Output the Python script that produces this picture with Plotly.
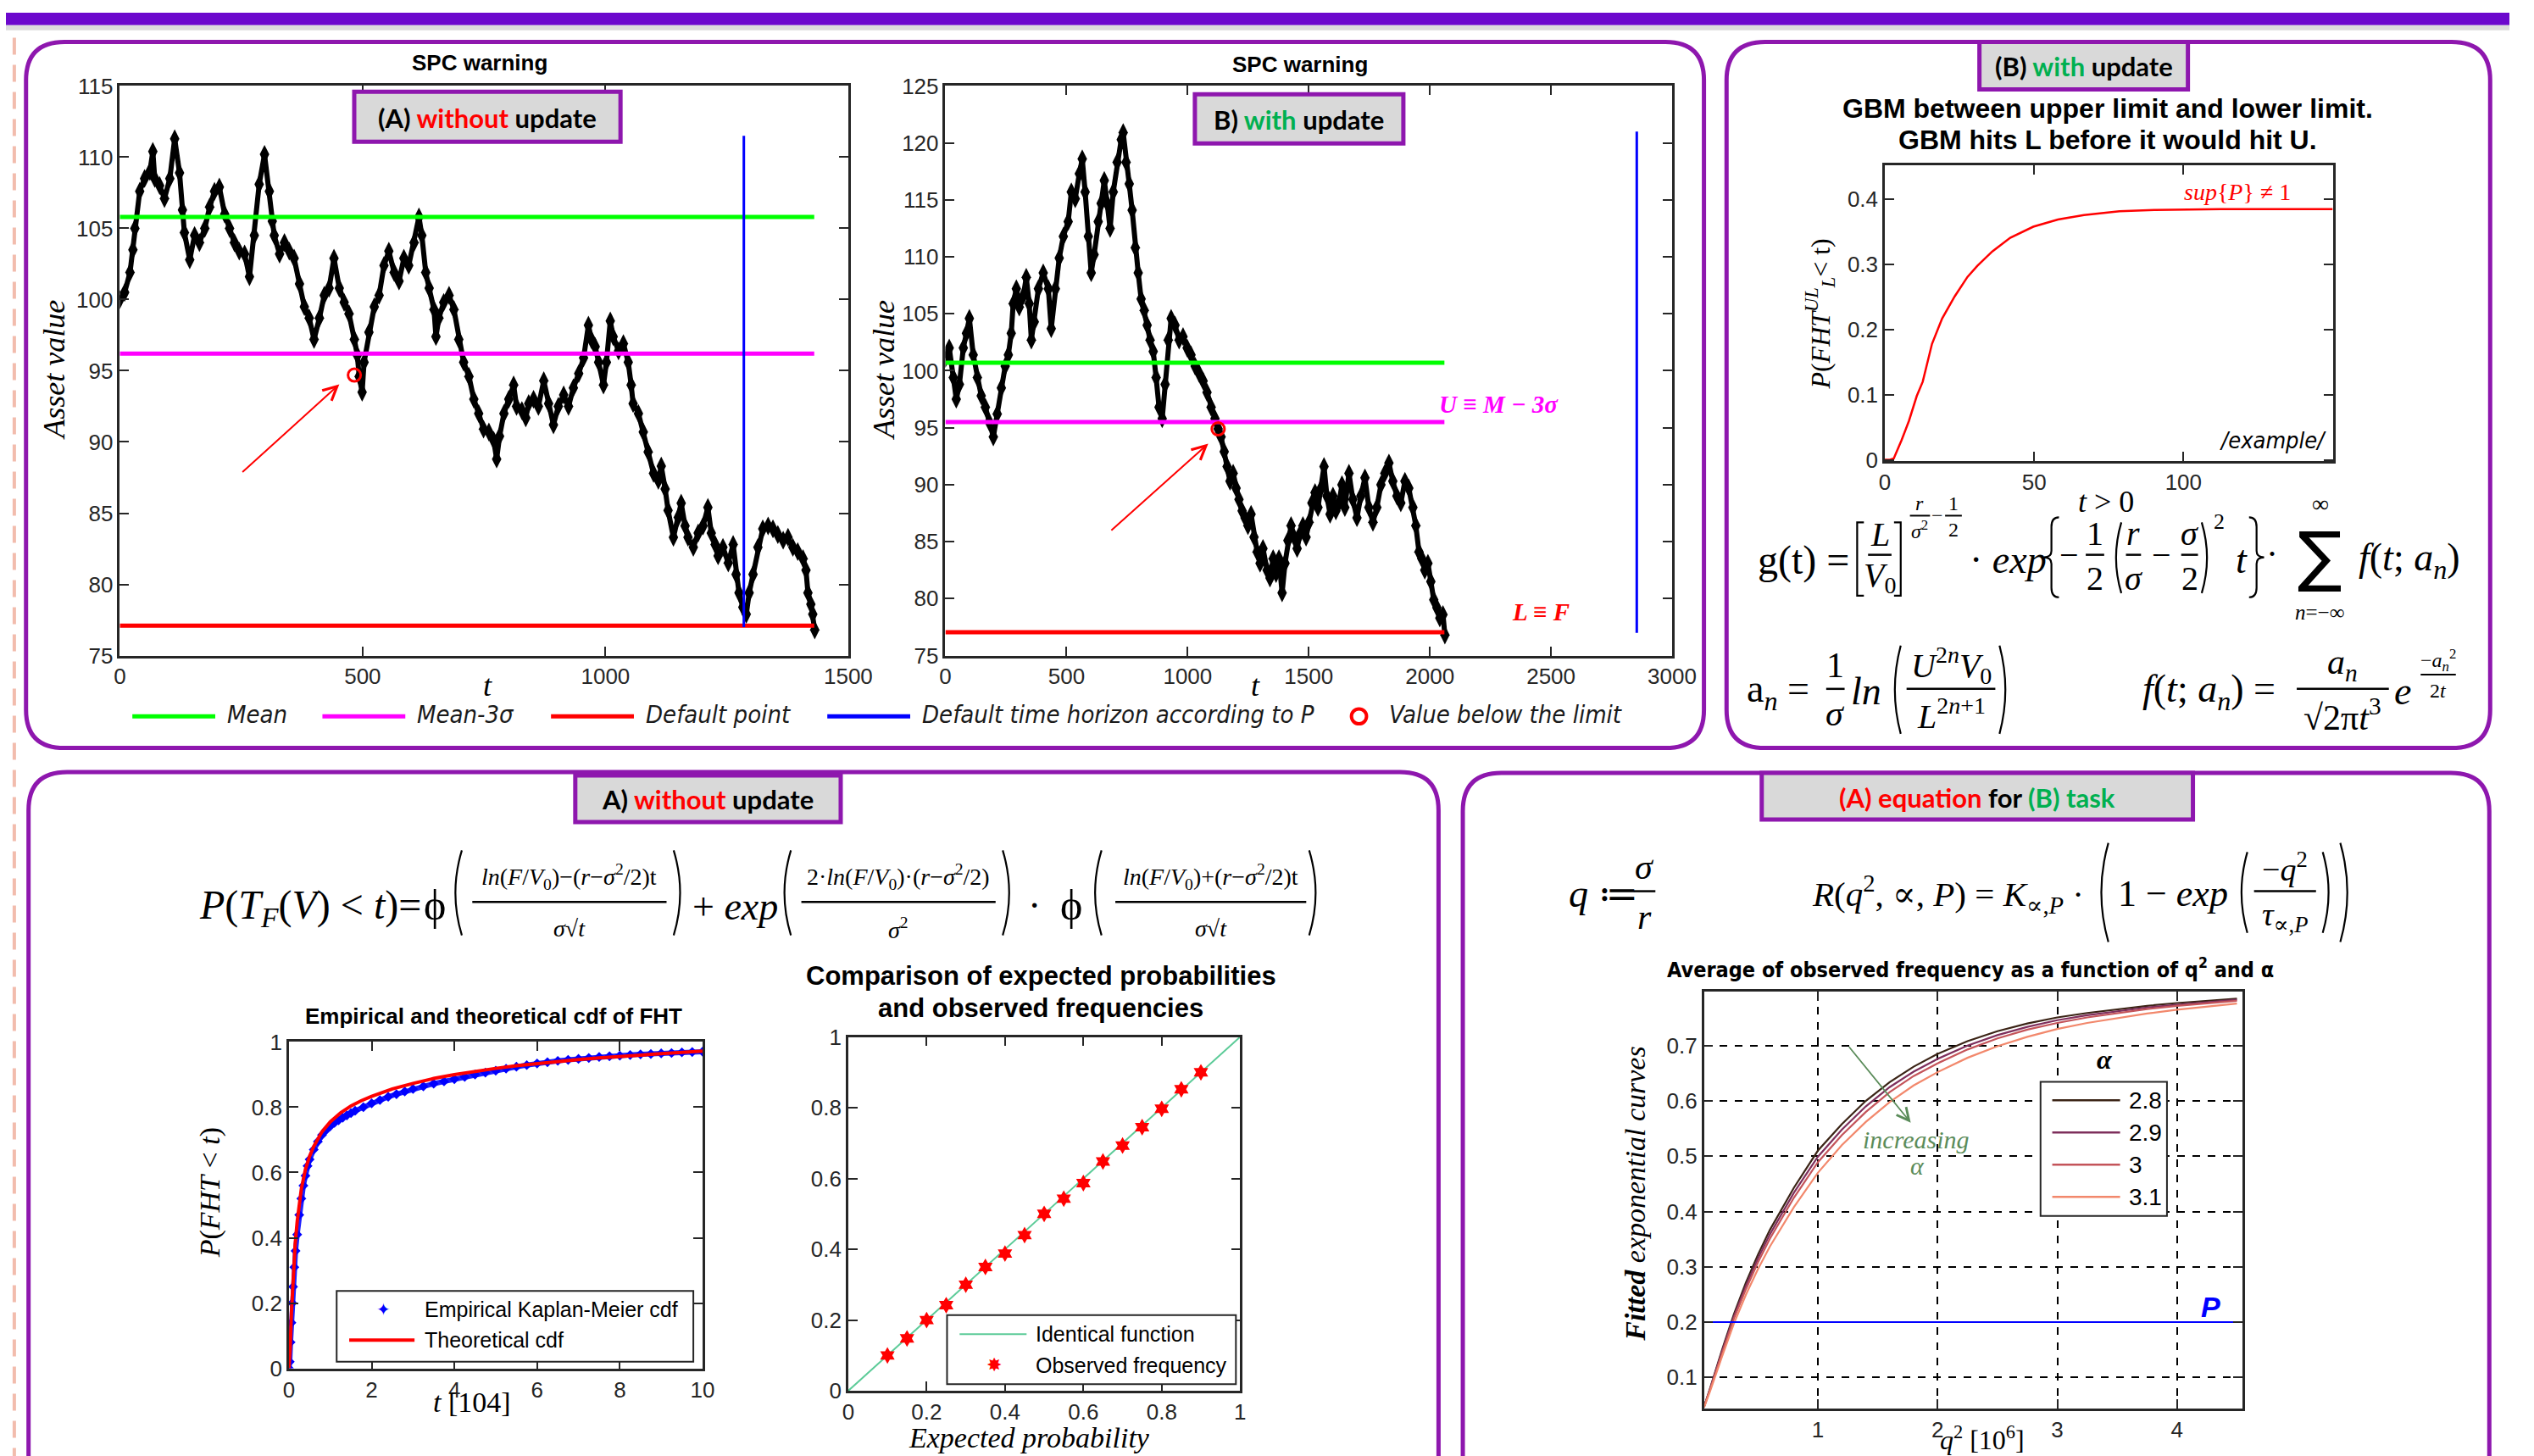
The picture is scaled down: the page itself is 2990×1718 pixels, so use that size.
import plotly.graph_objects as go

W, H = 2990, 1718

# ---------------------------------------------------------------- data
# SPC chart (A): simulated asset path, no update of the limits
t_a = [0, 10, 21, 27, 31, 41, 51, 62, 68, 72,
       82, 92, 103, 113, 123, 129, 133, 144, 154, 164,
       175, 185, 195, 205, 216, 226, 236, 246, 257, 267,
       277, 287, 298, 308, 314, 318, 329, 339, 349, 359,
       370, 380, 390, 400, 411, 421, 431, 441, 452, 462,
       472, 483, 489, 493, 499, 503, 513, 524, 534, 544,
       554, 565, 575, 585, 595, 606, 616, 622, 630, 637,
       647, 651, 657, 667, 678, 688, 698, 708, 719, 729,
       739, 749, 760, 770, 776, 782, 791, 801, 811, 817,
       828, 836, 842, 852, 862, 873, 883, 893, 903, 914,
       924, 934, 945, 955, 965, 971, 979, 986, 996, 1002,
       1010, 1016, 1027, 1037, 1047, 1053, 1057, 1068, 1078, 1088,
       1099, 1109, 1115, 1123, 1129, 1140, 1150, 1156, 1164, 1170,
       1181, 1191, 1201, 1211, 1218, 1226, 1232, 1242, 1253, 1263,
       1269, 1275, 1283, 1290, 1296, 1304, 1314, 1324, 1335, 1345,
       1355, 1366, 1376, 1386, 1396, 1407, 1413, 1417, 1423, 1427,
       1431]
v_a = [100.0, 100.5, 101.9, 103.5, 105.0, 107.6, 108.5, 109.0, 110.4, 108.5,
       108.0, 107.1, 108.5, 111.3, 108.9, 106.3, 104.7, 102.8, 104.5, 104.0,
       105.0, 106.5, 107.6, 107.9, 106.0, 105.0, 104.0, 103.4, 103.2, 101.6,
       104.5, 108.1, 110.2, 107.6, 105.5, 104.5, 103.2, 104.0, 103.4, 102.9,
       101.1, 99.5, 98.7, 97.2, 98.7, 100.3, 100.8, 102.9, 100.8, 99.8,
       99.0, 97.2, 96.1, 94.6, 93.5, 95.6, 97.7, 99.5, 100.3, 102.4,
       103.4, 101.9, 101.3, 102.9, 102.4, 104.0, 105.8, 104.5, 101.9, 100.8,
       99.3, 97.4, 98.7, 99.8, 100.3, 99.3, 97.2, 95.6, 94.6, 93.0,
       92.0, 90.9, 90.7, 90.1, 88.8, 90.4, 92.0, 93.0, 94.0, 92.5,
       92.2, 91.7, 92.7, 93.0, 92.5, 94.3, 92.7, 91.2, 92.5, 93.3,
       92.5, 93.8, 94.8, 95.9, 98.2, 97.2, 96.7, 95.6, 94.0, 95.6,
       98.5, 97.4, 96.4, 96.9, 95.6, 94.0, 92.7, 92.0, 90.7, 89.3,
       87.8, 87.3, 88.3, 86.7, 85.2, 83.3, 84.7, 85.7, 84.1, 83.3,
       82.6, 83.6, 84.1, 85.4, 83.6, 82.8, 82.0, 82.6, 81.5, 82.8,
       80.7, 79.4, 78.4, 77.9, 79.4, 80.7, 82.6, 83.9, 84.1, 83.9,
       83.5, 83.1, 83.3, 82.6, 82.3, 81.8, 81.0, 79.4, 78.6, 77.9,
       76.8]
mean_a, lcl_a, default_a = 105.8, 96.2, 77.1
horizon_a, t_end_a = 1285, 1430
horizon_a_span = [77.0, 111.5]
breach_a = (483, 94.7)

# SPC chart (B): limits updated
t_b = [0, 16, 33, 45, 58, 74, 87, 99, 115, 132,
       148, 165, 181, 198, 214, 231, 247, 260, 272, 280,
       293, 305, 322, 334, 346, 355, 367, 384, 404, 425,
       437, 454, 470, 487, 507, 520, 536, 553, 565, 577,
       590, 602, 614, 631, 643, 656, 668, 680, 693, 709,
       726, 734, 746, 759, 771, 784, 796, 808, 821, 833,
       845, 858, 870, 882, 895, 907, 920, 932, 948, 965,
       981, 998, 1014, 1031, 1047, 1064, 1080, 1097, 1113, 1126,
       1138, 1151, 1163, 1175, 1188, 1200, 1212, 1225, 1237, 1249,
       1262, 1274, 1287, 1299, 1311, 1328, 1340, 1353, 1365, 1377,
       1390, 1402, 1414, 1427, 1439, 1452, 1464, 1476, 1489, 1501,
       1513, 1526, 1538, 1551, 1563, 1575, 1588, 1600, 1612, 1625,
       1637, 1649, 1666, 1682, 1699, 1715, 1732, 1748, 1765, 1781,
       1798, 1814, 1831, 1847, 1864, 1880, 1897, 1913, 1930, 1942,
       1955, 1967, 1979, 1992, 2004, 2016, 2029, 2041, 2054, 2062]
v_b = [101.1, 102.0, 99.4, 97.5, 98.8, 102.0, 103.3, 104.6, 101.4, 99.4,
       97.8, 96.8, 95.5, 94.2, 96.2, 98.5, 100.4, 101.4, 103.3, 105.9,
       107.2, 105.6, 106.6, 108.2, 105.9, 102.7, 104.3, 107.2, 108.6, 107.2,
       103.7, 107.2, 109.9, 111.8, 113.1, 115.7, 115.1, 117.3, 118.6, 115.7,
       111.8, 108.6, 110.2, 113.1, 114.7, 116.7, 114.7, 112.5, 115.7, 118.3,
       120.3, 120.9, 118.3, 116.4, 114.1, 110.8, 108.6, 106.3, 105.3, 104.0,
       102.7, 101.7, 99.4, 96.8, 95.8, 98.8, 102.7, 104.6, 104.0, 102.7,
       103.0, 102.0, 101.4, 100.4, 99.8, 99.1, 98.1, 96.8, 95.8, 94.9,
       94.2, 92.9, 91.6, 90.3, 91.0, 89.7, 88.7, 87.7, 87.1, 86.4,
       87.4, 85.4, 84.1, 83.1, 84.4, 82.5, 81.8, 83.5, 82.2, 83.5,
       80.5, 83.1, 85.1, 86.4, 85.4, 84.4, 85.7, 86.4, 85.4, 86.7,
       88.4, 89.3, 88.0, 89.7, 91.6, 89.0, 87.4, 89.0, 87.7, 88.4,
       90.0, 88.0, 91.0, 88.7, 87.1, 89.0, 90.6, 88.0, 86.7, 88.0,
       90.0, 91.0, 91.9, 90.3, 89.0, 88.4, 90.3, 89.7, 88.0, 86.4,
       84.1, 83.5, 82.5, 83.1, 81.5, 79.9, 79.2, 78.3, 78.6, 76.8]
mean_b, lcl_b, default_b = 100.7, 95.5, 77.05
horizon_b, t_end_b = 2854, 2060
horizon_b_span = [77.0, 121.0]
breach_b = (1126, 94.9)

# GBM between an upper and a lower limit: P(FHT_L^UL < t)
gbm_t = [0, 1.4, 3, 5.6, 8.1, 10.7, 12.7, 15.8, 19.2, 23.4, 27.7, 31, 36, 42,
         49.7, 58, 66.7, 78.6, 90.5, 112.6, 150]
gbm_p = [0, 0, 0.002, 0.03, 0.06, 0.098, 0.12, 0.178, 0.217, 0.251, 0.281,
         0.298, 0.320, 0.341, 0.358, 0.369, 0.376, 0.3816, 0.3838, 0.385, 0.385]

# Empirical (Kaplan-Meier) and theoretical cdf of the first hitting time
emp_t = [0.0, 0.02, 0.04, 0.06, 0.08, 0.1, 0.13, 0.16, 0.2, 0.25, 0.3, 0.35,
         0.4, 0.45, 0.5, 0.6, 0.7, 0.8, 0.9, 1.0, 1.1, 1.2, 1.3, 1.4, 1.5, 1.6,
         1.8, 2.0, 2.2, 2.4, 2.6, 2.8, 3.0, 3.25, 3.5, 3.75, 4.0, 4.25, 4.5,
         4.75, 5.0, 5.25, 5.5, 5.75, 6.0, 6.25, 6.5, 6.75, 7.0, 7.25, 7.5,
         7.75, 8.0, 8.25, 8.5, 8.75, 9.0, 9.25, 9.5, 9.75, 10.0]
emp_p = [0.0, 0.02, 0.08, 0.14, 0.2, 0.25, 0.31, 0.36, 0.41, 0.47, 0.52, 0.56,
         0.59, 0.62, 0.64, 0.67, 0.695, 0.715, 0.73, 0.742, 0.752, 0.76, 0.768,
         0.775, 0.782, 0.789, 0.8, 0.812, 0.822, 0.832, 0.84, 0.848, 0.856,
         0.864, 0.872, 0.879, 0.886, 0.893, 0.9, 0.906, 0.912, 0.918, 0.924,
         0.929, 0.934, 0.938, 0.942, 0.945, 0.948, 0.951, 0.954, 0.956, 0.958,
         0.96, 0.962, 0.963, 0.965, 0.966, 0.968, 0.969, 0.97]
th_t = [0, 0.03, 0.06, 0.1, 0.15, 0.2, 0.3, 0.4, 0.5, 0.6, 0.8, 1.0, 1.25, 1.5,
        1.75, 2.0, 2.5, 3.0, 3.5, 4.0, 4.5, 5.0, 5.5, 6.0, 6.5, 7.0, 7.5, 8.0,
        8.5, 9.0, 9.5, 10.0]
th_p = [0, 0.06, 0.17, 0.28, 0.38, 0.45, 0.55, 0.61, 0.65, 0.68, 0.725, 0.755,
        0.783, 0.804, 0.82, 0.833, 0.856, 0.873, 0.888, 0.9, 0.91, 0.919, 0.927,
        0.934, 0.94, 0.946, 0.951, 0.956, 0.96, 0.964, 0.968, 0.972]

# Expected probabilities against observed frequencies
exp_p = [0.10, 0.15, 0.20, 0.25, 0.30, 0.35, 0.40, 0.45, 0.50, 0.55, 0.60,
         0.65, 0.70, 0.75, 0.80, 0.85, 0.90]
obs_f = [0.100, 0.148, 0.200, 0.242, 0.300, 0.350, 0.388, 0.440, 0.500, 0.543,
         0.587, 0.648, 0.693, 0.745, 0.797, 0.852, 0.900]

# Fitted exponential curves R(q^2, alpha, P)
q2 = [0.05, 0.1, 0.2, 0.3, 0.4, 0.5, 0.6, 0.8, 1.0, 1.2, 1.4, 1.6, 1.8, 2.0,
      2.25, 2.5, 2.75, 3.0, 3.25, 3.5, 3.75, 4.0, 4.25, 4.5]
fit_28 = [0.047, 0.080, 0.150, 0.215, 0.272, 0.322, 0.367, 0.443, 0.510, 0.558,
          0.600, 0.634, 0.662, 0.685, 0.708, 0.726, 0.740, 0.751, 0.759, 0.766,
          0.772, 0.777, 0.781, 0.785]
fit_29 = [0.047, 0.079, 0.147, 0.211, 0.266, 0.315, 0.359, 0.434, 0.499, 0.548,
          0.590, 0.625, 0.653, 0.676, 0.700, 0.719, 0.734, 0.746, 0.755, 0.762,
          0.769, 0.774, 0.779, 0.783]
fit_30 = [0.047, 0.078, 0.144, 0.207, 0.260, 0.308, 0.351, 0.425, 0.489, 0.538,
          0.580, 0.616, 0.645, 0.668, 0.693, 0.713, 0.729, 0.741, 0.751, 0.759,
          0.766, 0.772, 0.777, 0.781]
fit_31 = [0.046, 0.075, 0.138, 0.198, 0.250, 0.296, 0.337, 0.408, 0.470, 0.520,
          0.562, 0.598, 0.628, 0.652, 0.678, 0.699, 0.716, 0.730, 0.741, 0.750,
          0.758, 0.765, 0.771, 0.776]
alpha_labels = ["2.8", "2.9", "3", "3.1"]
alpha_colors = ["#3b2416", "#7e2f5c", "#c4545a", "#f2886c"]
p_level = 0.2

# ---------------------------------------------------------------- styling
PURPLE = "#8e17ae"
FRAME = "#262626"
SANS = "Liberation Sans, Arial, sans-serif"
NARROW = "Liberation Sans Narrow, Arial Narrow, DejaVu Sans Condensed, Liberation Sans, sans-serif"
CAL = "Lato, Liberation Sans, sans-serif"
SERIF = "Liberation Serif, DejaVu Serif, serif"

ann, shp = [], []


def X(px):
    return px / W


def Y(py):
    return 1 - py / H


def T(x, y, s, size, color="black", family=SERIF, xa="center", ya="middle", angle=0):
    ann.append(dict(x=X(x), y=Y(y), xref="paper", yref="paper", text=s,
                    showarrow=False, xanchor=xa, yanchor=ya, textangle=angle,
                    font=dict(size=size, color=color, family=family)))


def L(x0, y0, x1, y1, color="black", width=2.5, dash=None, layer="above"):
    shp.append(dict(type="line", xref="paper", yref="paper",
                    x0=X(x0), y0=Y(y0), x1=X(x1), y1=Y(y1), layer=layer,
                    line=dict(color=color, width=width, dash=dash)))


def R(x0, y0, x1, y1, fill, line=None, width=0, layer="above"):
    shp.append(dict(type="rect", xref="paper", yref="paper",
                    x0=X(x0), y0=Y(y0), x1=X(x1), y1=Y(y1), layer=layer,
                    fillcolor=fill, line=dict(color=line or fill, width=width)))


def PATH(cmds, color="black", width=2.2, fill=None, layer="above"):
    parts = []
    for c in cmds:
        op, nums = c[0], c[1:]
        pts = [f"{X(nums[i]):.5f},{Y(nums[i + 1]):.5f}" for i in range(0, len(nums), 2)]
        parts.append(op + " ".join(pts))
    shp.append(dict(type="path", xref="paper", yref="paper", path=" ".join(parts),
                    line=dict(color=color, width=width),
                    fillcolor=fill or "rgba(0,0,0,0)", layer=layer))


def panel(x0, y0, x1, y1, r=46):
    PATH([("M", x0 + r, y0), ("L", x1 - r, y0), ("Q", x1, y0, x1, y0 + r),
          ("L", x1, y1 - r), ("Q", x1, y1, x1 - r, y1), ("L", x0 + r, y1),
          ("Q", x0, y1, x0, y1 - r), ("L", x0, y0 + r), ("Q", x0, y0, x0 + r, y0), ("Z",)],
         color=PURPLE, width=5, layer="below")


def label_box(x0, y0, x1, y1, html, size=31):
    R(x0, y0, x1, y1, "#d9d9d9", PURPLE, 5)
    T((x0 + x1) / 2, (y0 + y1) / 2 + 1, "<b>" + html + "</b>", size, family=CAL)


def lparen(x, y0, y1, w=9):
    PATH([("M", x + 0.5 * w, y0), ("Q", x - 0.9 * w, (y0 + y1) / 2, x + 0.5 * w, y1)])


def rparen(x, y0, y1, w=9):
    PATH([("M", x - 0.5 * w, y0), ("Q", x + 0.9 * w, (y0 + y1) / 2, x - 0.5 * w, y1)])


def lbrack(x, y0, y1, w=8):
    PATH([("M", x + w, y0), ("L", x, y0), ("L", x, y1), ("L", x + w, y1)])


def rbrack(x, y0, y1, w=8):
    PATH([("M", x - w, y0), ("L", x, y0), ("L", x, y1), ("L", x - w, y1)])


def lbrace(x, y0, y1, w=9):
    m, h = (y0 + y1) / 2, (y1 - y0)
    PATH([("M", x + w, y0), ("Q", x, y0, x, y0 + 0.12 * h), ("L", x, m - 0.08 * h),
          ("Q", x, m, x - w, m), ("Q", x, m, x, m + 0.08 * h), ("L", x, y1 - 0.12 * h),
          ("Q", x, y1, x + w, y1)])


def rbrace(x, y0, y1, w=9):
    m, h = (y0 + y1) / 2, (y1 - y0)
    PATH([("M", x - w, y0), ("Q", x, y0, x, y0 + 0.12 * h), ("L", x, m - 0.08 * h),
          ("Q", x, m, x + w, m), ("Q", x, m, x, m + 0.08 * h), ("L", x, y1 - 0.12 * h),
          ("Q", x, y1, x - w, y1)])


def frac(xc, ybar, half, num, den, size, dy=26, width=2.5):
    L(xc - half, ybar, xc + half, ybar, width=width)
    T(xc, ybar - dy, num, size)
    T(xc, ybar + dy + 2, den, size)


def axis(dom, rng, tickvals, ticktext=None, size=26, **kw):
    d = dict(domain=dom, range=rng, tickvals=tickvals, showline=True, linecolor=FRAME,
             linewidth=2.5, mirror="ticks", ticks="inside", ticklen=11, tickwidth=2,
             tickcolor=FRAME, showgrid=False, zeroline=False, fixedrange=True,
             tickfont=dict(family=SANS, size=size, color="#262626"))
    if ticktext is not None:
        d["ticktext"] = ticktext
    d.update(kw)
    return d


def xd(a, b):
    return [a / W, b / W]


def yd(top, bottom):
    return [1 - bottom / H, 1 - top / H]


# ---------------------------------------------------------------- traces
fig = go.Figure()


def add(tr):
    fig.add_trace(tr)


PATH_LINE = dict(color="black", width=6)
PATH_MARK = dict(symbol="diamond-tall", size=16, color="black")

# SPC chart A
add(go.Scatter(x=t_a, y=v_a, xaxis="x", yaxis="y", mode="lines+markers",
               line=PATH_LINE, marker=PATH_MARK))
for lvl, col, wd in [(mean_a, "#00ff00", 5), (lcl_a, "#ff00ff", 5), (default_a, "#ff0000", 5)]:
    add(go.Scatter(x=[0, t_end_a], y=[lvl, lvl], xaxis="x", yaxis="y", mode="lines",
                   line=dict(color=col, width=wd)))
add(go.Scatter(x=[horizon_a, horizon_a], y=horizon_a_span, xaxis="x", yaxis="y",
               mode="lines", line=dict(color="#0000ff", width=3)))
add(go.Scatter(x=[breach_a[0]], y=[breach_a[1]], xaxis="x", yaxis="y", mode="markers",
               marker=dict(symbol="circle-open", size=15, color="#ff0000", line=dict(width=3))))

# SPC chart B
add(go.Scatter(x=t_b, y=v_b, xaxis="x2", yaxis="y2", mode="lines+markers",
               line=PATH_LINE, marker=PATH_MARK))
for lvl, col, wd in [(mean_b, "#00ff00", 5), (lcl_b, "#ff00ff", 5), (default_b, "#ff0000", 5)]:
    add(go.Scatter(x=[0, t_end_b], y=[lvl, lvl], xaxis="x2", yaxis="y2", mode="lines",
                   line=dict(color=col, width=wd)))
add(go.Scatter(x=[horizon_b, horizon_b], y=horizon_b_span, xaxis="x2", yaxis="y2",
               mode="lines", line=dict(color="#0000ff", width=3)))
add(go.Scatter(x=[breach_b[0]], y=[breach_b[1]], xaxis="x2", yaxis="y2", mode="markers",
               marker=dict(symbol="circle-open", size=15, color="#ff0000", line=dict(width=3))))

# GBM hitting probability
add(go.Scatter(x=gbm_t, y=gbm_p, xaxis="x3", yaxis="y3", mode="lines",
               line=dict(color="#ff0000", width=2.5)))

# cdf of FHT
add(go.Scatter(x=emp_t, y=emp_p, xaxis="x4", yaxis="y4", mode="lines+markers",
               line=dict(color="#1f1fff", width=6),
               marker=dict(symbol="diamond", size=9, color="#0000ff")))
add(go.Scatter(x=th_t, y=th_p, xaxis="x4", yaxis="y4", mode="lines",
               line=dict(color="#ff0000", width=4)))

# calibration
add(go.Scatter(x=[0, 1], y=[0, 1], xaxis="x5", yaxis="y5", mode="lines",
               line=dict(color="#5ccb98", width=2)))
add(go.Scatter(x=exp_p, y=obs_f, xaxis="x5", yaxis="y5", mode="markers",
               marker=dict(symbol="hexagram", size=15, color="#ff0000")))

# fitted curves
for vals, col in zip([fit_28, fit_29, fit_30, fit_31], alpha_colors):
    add(go.Scatter(x=q2, y=vals, xaxis="x6", yaxis="y6", mode="lines",
                   line=dict(color=col, width=2.2)))
add(go.Scatter(x=[0, 4.6], y=[p_level, p_level], xaxis="x6", yaxis="y6", mode="lines",
               line=dict(color="#0000ff", width=2)))

# ---------------------------------------------------------------- page decoration
R(0, 0, W, 15, "#6c08cd", layer="below")
R(0, 15, W, 21, "#dcdcdc", layer="below")
L(10, 30, 10, H + 20, "#f2bcad", 4, dash="20px,12px", layer="below")
panel(24, 35, 2028, 883)
panel(2055, 35, 2967, 883)
panel(27, 912, 1711, 1800)
panel(1740, 913, 2966, 1800)

RED = "<span style='color:#ff0000'>"
GRN = "<span style='color:#00b050'>"
label_box(416, 95, 734, 155, "(A) " + RED + "without</span> update")
label_box(1420, 98, 1669, 157, "B) " + GRN + "with</span> update")
label_box(2357, 35, 2606, 92, "(B) " + GRN + "with</span> update")
label_box(680, 916, 997, 972, "A) " + RED + "without</span> update")
label_box(2097, 913, 2612, 969, RED + "(A) equation</span> for " + GRN + "(B) task</span>")

# ---- SPC charts: titles, axis labels, annotations
T(566, 60, "<b>SPC warning</b>", 26, family=SANS)
T(1546, 62, "<b>SPC warning</b>", 26, family=SANS)
T(57, 429, "<i>Asset value</i>", 36, angle=-90)
T(1048, 429, "<i>Asset value</i>", 36, angle=-90)
T(575, 808, "<i>t</i>", 36)
T(1492, 808, "<i>t</i>", 36)
T(1783, 470, "<b><i>U ≡ M − 3σ</i></b>", 29, color="#ff00ff")
T(1833, 720, "<b><i>L ≡ F</i></b>", 29, color="#ff0000")

# legend row under the SPC charts
legend_row = [(151, "#00ff00", "Mean"), (378, "#ff00ff", "Mean-3σ"),
              (651, "#ff0000", "Default point"),
              (981, "#0000ff", "Default time horizon according to P")]
for x0, col, lab in legend_row:
    L(x0, 845, x0 + 99, 845, col, 5)
    T(x0 + 111, 843, "<i>" + lab + "</i>", 29, color="#1a1a1a", family=NARROW, xa="left")
shp.append(dict(type="circle", xref="paper", yref="paper", x0=X(1607), x1=X(1625),
                y0=Y(854), y1=Y(836), line=dict(color="#ff0000", width=4), layer="above"))
T(1650, 843, "<i>Value below the limit</i>", 29, color="#1a1a1a", family=NARROW, xa="left")

# ---- GBM panel
T(2510, 115, "<b>GBM between upper limit and lower limit.</b>", 32, family=SANS)
T(2510, 153, "<b>GBM hits L before it would hit U.</b>", 32, family=SANS)
T(2167, 362, "<i>P</i>(<i>FHT</i><sup><i>UL</i></sup><sub><i>L</i></sub>&lt; t)", 32, angle=-90)
T(2665, 215, "<i>sup</i>{<i>P</i>} ≠ 1", 28, color="#ff0000")
T(2708, 513, "<i>/example/</i>", 27, family=NARROW, xa="center")

T(2508, 587, "<i>t</i> &gt; 0", 36)
T(2090, 657, "g(t) =", 48, xa="left")
lbrack(2211, 612, 700)
rbrack(2263, 612, 700)
frac(2238, 651, 14, "<i>L</i>", "<i>V</i><sub>0</sub>", 40, dy=25)
frac(2286, 604, 12, "<i>r</i>", "<i>σ</i><sup>2</sup>", 24, dy=15, width=2)
T(2307, 604, "−", 24)
frac(2326, 604, 10, "1", "2", 24, dy=15, width=2)
T(2343, 657, "· <i>exp</i>", 46, xa="left")
lbrace(2443, 606, 702)
rbrace(2688, 606, 702)
T(2464, 651, "−", 40)
frac(2495, 651, 11, "1", "2", 40, dy=26)
lparen(2522, 612, 697)
rparen(2627, 612, 697)
frac(2541, 651, 9, "<i>r</i>", "<i>σ</i>", 40, dy=26)
T(2574, 651, "−", 40)
frac(2608, 651, 10, "<i>σ</i>", "2", 40, dy=26)
T(2643, 611, "2", 26)
T(2670, 657, "<i>t</i>", 46)
T(2707, 650, "·", 42)
T(2764, 652, "∑", 78, family="DejaVu Sans, sans-serif")
T(2764, 590, "∞", 28)
T(2764, 720, "<i>n</i>=−∞", 25)
T(2808, 657, "<i>f</i>(<i>t</i>; <i>a</i><sub><i>n</i></sub>)", 46, xa="left")

T(2077, 815, "a<sub><i>n</i></sub> =", 46, xa="left")
frac(2185, 812, 11, "1", "<i>σ</i>", 42, dy=28)
T(2222, 815, "<i>ln</i>", 46)
lparen(2258, 760, 866, w=10)
rparen(2386, 760, 866, w=10)
frac(2323, 812, 53, "<i>U</i><sup>2<i>n</i></sup><i>V</i><sub>0</sub>",
     "<i>L</i><sup>2<i>n</i>+1</sup>", 40, dy=28)
T(2550, 815, "<i>f</i>(<i>t</i>; <i>a</i><sub><i>n</i></sub>) =", 46, xa="left")
frac(2791, 812, 55, "<i>a</i><sub><i>n</i></sub>", "√2π<i>t</i><sup>3</sup>", 42, dy=29)
T(2862, 815, "<i>e</i>", 46)
frac(2905, 795, 21, "−<i>a</i><sub><i>n</i></sub><sup>2</sup>", "2<i>t</i>", 24, dy=17, width=2)

# ---- first hitting time formula
T(229, 1075, "<i>P</i>(<i>T</i><sub><i>F</i></sub>(<i>V</i>) &lt; <i>t</i>)=", 48, xa="left")
T(512, 1072, "ϕ", 50)
lparen(539, 1006, 1108, w=11)
rparen(803, 1006, 1108, w=11)
num1 = "<i>ln</i>(<i>F</i>/<i>V</i><sub>0</sub>)−(<i>r</i>−<i>σ</i><sup>2</sup>/2)t"
num2 = "2·<i>ln</i>(<i>F</i>/<i>V</i><sub>0</sub>)·(<i>r</i>−<i>σ</i><sup>2</sup>/2)"
num3 = "<i>ln</i>(<i>F</i>/<i>V</i><sub>0</sub>)+(<i>r</i>−<i>σ</i><sup>2</sup>/2)t"
frac(673, 1068, 116, num1, "<i>σ</i>√<i>t</i>", 28, dy=30)
T(818, 1073, "+ <i>exp</i>", 46, xa="left")
lparen(932, 1006, 1108, w=11)
rparen(1196, 1006, 1108, w=11)
frac(1066, 1068, 116, num2, "<i>σ</i><sup>2</sup>", 28, dy=30)
T(1228, 1072, "·", 46)
T(1272, 1072, "ϕ", 50)
lparen(1303, 1006, 1108, w=11)
rparen(1562, 1006, 1108, w=11)
frac(1439, 1068, 114, num3, "<i>σ</i>√<i>t</i>", 28, dy=30)

# cdf chart labels and legend
T(583, 1205, "<b>Empirical and theoretical cdf of FHT</b>", 26, family=SANS)
T(244, 1417, "<i>P</i>(<i>FHT</i> &lt; <i>t</i>)", 34, angle=-90)
T(508, 1669, "<i>t</i> [104]", 34, xa="left")
R(395, 1535, 821, 1620, "white", FRAME, 2)
T(451, 1557, "✦", 20, color="#0000ff", family="DejaVu Sans, sans-serif")
T(498, 1557, "Empirical Kaplan-Meier cdf", 25, family=SANS, xa="left")
L(410, 1594, 488, 1594, "#ff0000", 4)
T(498, 1594, "Theoretical cdf", 25, family=SANS, xa="left")

# calibration chart labels and legend
T(1236, 1157, "<b>Comparison of expected probabilities</b>", 31, family=SANS)
T(1236, 1195, "<b>and observed frequencies</b>", 31, family=SANS)
T(1222, 1711, "<i>Expected probability</i>", 34)
R(1124, 1564, 1469, 1647, "white", FRAME, 2)
L(1139, 1587, 1219, 1587, "#5ccb98", 2)
T(1228, 1587, "Identical function", 25, family=SANS, xa="left")
T(1180, 1624, "✸", 22, color="#ff0000", family="DejaVu Sans, sans-serif")
T(1228, 1624, "Observed frequency", 25, family=SANS, xa="left")

# ---- exponential fit panel
T(1864, 1058, "<i>q</i> ≔", 46, xa="left")
frac(1957, 1055, 13, "<i>σ</i>", "<i>r</i>", 42, dy=29)
T(2155, 1058, "<i>R</i>(<i>q</i><sup>2</sup>, ∝, <i>P</i>) = <i>K</i><sub>∝,<i>P</i></sub> ·", 41, xa="left")
lparen(2505, 997, 1116, w=12)
rparen(2794, 997, 1116, w=12)
T(2520, 1058, "1 − <i>exp</i>", 44, xa="left")
lparen(2672, 1008, 1105, w=10)
rparen(2772, 1008, 1105, w=10)
frac(2722, 1055, 37, "−<i>q</i><sup>2</sup>", "<i>τ</i><sub>∝,<i>P</i></sub>", 38, dy=29)

T(2346, 1148, "<b>Average of observed frequency as a function of q<sup>2</sup> and α</b>", 25, family=NARROW)
T(1946, 1419, "<b><i>Fitted</i></b><i> exponential curves</i>", 34, angle=-90)
T(2360, 1712, "<i>q</i><sup>2</sup> [10<sup>6</sup>]", 32)
T(2633, 1554, "<b><i>P</i></b>", 34, color="#0000ff", family=SANS)
T(2281, 1353, "<i>increasing</i>", 30, color="#5b8c5a")
T(2283, 1385, "<i>α</i>", 30, color="#5b8c5a")
ann.append(dict(x=X(2275), y=Y(1333), xref="paper", yref="paper", ax=2201 - 2275,
                ay=1242 - 1333, axref="pixel", ayref="pixel", showarrow=True, text="",
                arrowhead=5, arrowsize=1.6, arrowwidth=1.8, arrowcolor="#5b8c5a"))
T(2507, 1257, "<b><i>α</i></b>", 32)
R(2430, 1284, 2581, 1445, "white", FRAME, 2)
for i, (lab, col) in enumerate(zip(alpha_labels, alpha_colors)):
    yy = 1306 + i * 38.7
    L(2444, yy, 2525, yy, col, 2.5)
    T(2533, yy, lab, 28, family=SANS, xa="left")

# arrows pointing to the first value below the limit
for xr, yr, head, tail in [("x", "y", (452, 94.05), (250, 87.8)),
                           ("x2", "y2", (1085, 93.6), (680, 85.9))]:
    ann.append(dict(x=head[0], y=head[1], xref=xr, yref=yr, ax=tail[0], ay=tail[1],
                    axref=xr, ayref=yr, showarrow=True, text="", arrowhead=5,
                    arrowsize=1.6, arrowwidth=2, arrowcolor="#ff0000"))

# ---------------------------------------------------------------- layout
fig.update_layout(
    width=W, height=H, margin=dict(l=0, r=0, t=0, b=0),
    paper_bgcolor="white", plot_bgcolor="rgba(0,0,0,0)", showlegend=False,
    xaxis=axis(xd(136, 1006), [0, 1500], [0, 500, 1000, 1500], anchor="y"),
    yaxis=axis(yd(88, 772), [75, 115], list(range(75, 116, 5)), anchor="x"),
    xaxis2=axis(xd(1122, 1990), [0, 3000], list(range(0, 3001, 500)), anchor="y2"),
    yaxis2=axis(yd(88, 772), [75, 125], list(range(75, 126, 5)), anchor="x2"),
    xaxis3=axis(xd(2244, 2779), [0, 150], [0, 50, 100], anchor="y3"),
    yaxis3=axis(yd(183, 538), [-0.0013, 0.4526], [0, 0.1, 0.2, 0.3, 0.4],
                ["0", "0.1", "0.2", "0.3", "0.4"], anchor="x3"),
    xaxis4=axis(xd(338, 832), [0, 10], [0, 2, 4, 6, 8, 10], anchor="y4"),
    yaxis4=axis(yd(1236, 1628), [0, 1], [0, 0.2, 0.4, 0.6, 0.8, 1],
                ["0", "0.2", "0.4", "0.6", "0.8", "1"], anchor="x4"),
    xaxis5=axis(xd(1006, 1474), [0, 1], [0, 0.2, 0.4, 0.6, 0.8, 1],
                ["0", "0.2", "0.4", "0.6", "0.8", "1"], anchor="y5"),
    yaxis5=axis(yd(1230, 1655), [0, 1], [0, 0.2, 0.4, 0.6, 0.8, 1],
                ["0", "0.2", "0.4", "0.6", "0.8", "1"], anchor="x5"),
    xaxis6=axis(xd(2028, 2671), [0.049, 4.545], [1, 2, 3, 4], anchor="y6",
                showgrid=True, gridcolor="black", griddash="dash", gridwidth=1.5),
    yaxis6=axis(yd(1176, 1676), [0.0443, 0.797], [0.1, 0.2, 0.3, 0.4, 0.5, 0.6, 0.7],
                ["0.1", "0.2", "0.3", "0.4", "0.5", "0.6", "0.7"], anchor="x6",
                showgrid=True, gridcolor="black", griddash="dash", gridwidth=1.5),
    annotations=ann, shapes=shp,
)

fig.write_html("out.html")
